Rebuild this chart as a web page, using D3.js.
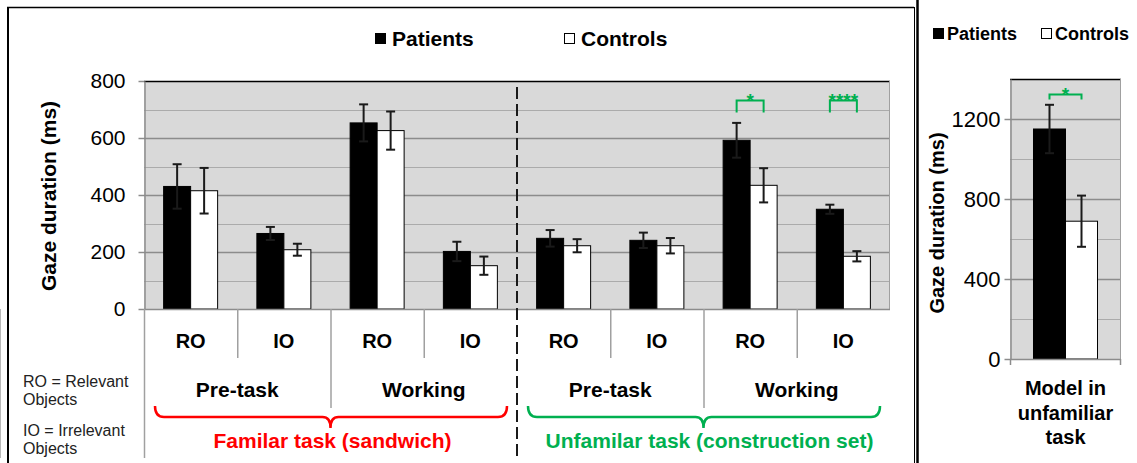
<!DOCTYPE html>
<html>
<head>
<meta charset="utf-8">
<script src="https://cdn.jsdelivr.net/npm/d3@7"></script>
<style>
body { margin: 0; background: #fff; }
text { font-family: "Liberation Sans", Arial, sans-serif; }
</style>
</head>
<body>
<svg id="chart" width="1137" height="463"></svg>
<script>
// main panel data
var categories = ["RO", "IO", "RO", "IO", "RO", "IO", "RO", "IO"];
var phases = ["Pre-task", "Working", "Pre-task", "Working"];
var tasks = ["Familar task (sandwich)", "Unfamilar task (construction set)"];
var taskColors = ["#ff0000", "#00b050"];
var seriesNames = ["Patients", "Controls"];
var patients = [430, 265, 653, 202, 248, 241, 592, 350];
var patientsErr = [78, 23, 65, 34, 29, 27, 61, 16];
var controls = [415, 208, 626, 152, 222, 222, 434, 185];
var controlsErr = [80, 21, 67, 32, 23, 27, 60, 18];
var yTicks = [0, 200, 400, 600, 800];
var yGrid = [100, 200, 300, 400, 500, 600, 700];
var sigIndex = [6, 7];
var sigLabels = ["*", "****"];
var notes = ["RO = Relevant", "Objects", "IO = Irrelevant", "Objects"];

// right panel data
var modelCategory = ["Model in", "unfamiliar", "task"];
var modelPatients = [1150];
var modelPatientsErr = [121];
var modelControls = [689];
var modelControlsErr = [128];
var modelTicks = [0, 400, 800, 1200];
var modelGrid = [200, 400, 600, 800, 1000, 1200];
var modelSig = ["*"];

var svg = d3.select("#chart");
var green = "#00b050";

// frame
svg.append("line").attr("x1", 7).attr("x2", 914).attr("y1", 7.5).attr("y2", 7.5).attr("stroke", "#000").attr("stroke-width", 1.5);
svg.append("line").attr("x1", 8).attr("x2", 8).attr("y1", 7).attr("y2", 463).attr("stroke", "#000").attr("stroke-width", 2);
svg.append("line").attr("x1", 914.5).attr("x2", 914.5).attr("y1", 7).attr("y2", 463).attr("stroke", "#000").attr("stroke-width", 1);
svg.append("line").attr("x1", 917.5).attr("x2", 917.5).attr("y1", 0).attr("y2", 463).attr("stroke", "#000").attr("stroke-width", 2.5);

function drawPanel(opts) {
  var g = svg.append("g");
  var x = d3.scaleBand().domain(d3.range(opts.n)).range([opts.left, opts.right]);
  var x1 = d3.scaleBand().domain(seriesNames).range([0, x.bandwidth()]).paddingOuter(opts.pad);
  var y = d3.scaleLinear().domain([0, opts.max]).range([opts.bottom, opts.top]);

  g.append("rect")
    .attr("x", opts.left).attr("y", opts.top)
    .attr("width", opts.right - opts.left).attr("height", opts.bottom - opts.top)
    .attr("fill", "#d9d9d9");

  g.selectAll("line.grid").data(opts.grid).enter().append("line")
    .attr("x1", opts.left).attr("x2", opts.right)
    .attr("y1", function(d) { return Math.round(y(d)) + 0.5; })
    .attr("y2", function(d) { return Math.round(y(d)) + 0.5; })
    .attr("stroke", function(d) { return opts.ticks.indexOf(d) >= 0 ? "#8c8c8c" : "#ababab"; })
    .attr("stroke-width", function(d) { return opts.ticks.indexOf(d) >= 0 ? 1.5 : 1; });

  var series = [
    { name: "Patients", vals: opts.p, errs: opts.pe, fill: "#000" },
    { name: "Controls", vals: opts.c, errs: opts.ce, fill: "#fff" }
  ];
  series.forEach(function(s) {
    g.selectAll(null).data(s.vals).enter().append("rect")
      .attr("x", function(d, i) { return x(i) + x1(s.name); })
      .attr("y", function(d) { return y(d); })
      .attr("width", x1.bandwidth())
      .attr("height", function(d) { return y(0) - y(d); })
      .attr("fill", s.fill)
      .attr("stroke", "#000").attr("stroke-width", 1);
  });
  series.forEach(function(s) {
    var eb = g.selectAll(null).data(s.vals).enter().append("g")
      .attr("transform", function(d, i) { return "translate(" + (x(i) + x1(s.name) + x1.bandwidth() / 2) + ",0)"; })
      .attr("stroke", "#1a1a1a").attr("stroke-width", 2);
    eb.append("line").attr("y1", function(d, i) { return y(d + s.errs[i]); }).attr("y2", function(d, i) { return y(d - s.errs[i]); });
    eb.append("line").attr("x1", -4.5).attr("x2", 4.5).attr("y1", function(d, i) { return y(d + s.errs[i]); }).attr("y2", function(d, i) { return y(d + s.errs[i]); });
    eb.append("line").attr("x1", -4.5).attr("x2", 4.5).attr("y1", function(d, i) { return y(d - s.errs[i]); }).attr("y2", function(d, i) { return y(d - s.errs[i]); });
  });

  // borders
  g.append("line").attr("x1", opts.left).attr("x2", opts.right).attr("y1", opts.top + 0.5).attr("y2", opts.top + 0.5).attr("stroke", "#000").attr("stroke-width", 1.5);
  g.append("line").attr("x1", opts.right - 0.5).attr("x2", opts.right - 0.5).attr("y1", opts.top).attr("y2", opts.bottom).attr("stroke", "#a0a0a0");
  g.append("line").attr("x1", opts.left).attr("x2", opts.right).attr("y1", opts.bottom + 0.5).attr("y2", opts.bottom + 0.5).attr("stroke", "#8c8c8c").attr("stroke-width", 1.5);

  var axis = g.append("g")
    .attr("transform", "translate(" + (opts.left + 0.5) + ",0)")
    .call(d3.axisLeft(y).tickValues(opts.ticks).tickSize(6).tickSizeOuter(0).tickPadding(opts.tickPad).tickFormat(d3.format("d")));
  axis.select(".domain").attr("stroke", "#8c8c8c").attr("stroke-width", 1.5);
  axis.selectAll(".tick line").attr("stroke", "#8c8c8c").attr("stroke-width", 1.5);
  axis.selectAll(".tick text").attr("font-size", opts.tickFont).attr("fill", "#000")
    .attr("font-family", "Liberation Sans, Arial, sans-serif");

  g.append("text")
    .attr("transform", "translate(" + opts.titleX + "," + opts.titleY + ") rotate(-90)")
    .attr("text-anchor", "middle")
    .attr("font-size", opts.titleFont).attr("font-weight", "bold")
    .text("Gaze duration (ms)");

  // significance brackets
  opts.sig.forEach(function(idx, k) {
    var xa = x(idx) + x1("Patients") + x1.bandwidth() / 2;
    var xb = x(idx) + x1("Controls") + x1.bandwidth() / 2;
    g.append("path")
      .attr("d", "M" + xa + "," + (opts.sigY + opts.sigLeg) + "V" + opts.sigY + "H" + xb + "V" + (opts.sigY + opts.sigLeg))
      .attr("fill", "none").attr("stroke", green).attr("stroke-width", 2);
    g.append("text")
      .attr("x", (xa + xb) / 2).attr("y", opts.sigY + 6)
      .attr("text-anchor", "middle").attr("font-size", 19).attr("font-weight", "bold").attr("fill", green)
      .text(opts.sigText[k]);
  });

  return { x: x, y: y };
}

var main = drawPanel({
  n: categories.length, left: 144, right: 890, top: 81, bottom: 309, max: 800, pad: 0.727,
  p: patients, pe: patientsErr, c: controls, ce: controlsErr,
  grid: yGrid, ticks: yTicks, tickPad: 13, tickFont: 21,
  titleX: 56, titleY: 196, titleFont: 21,
  sig: sigIndex, sigText: sigLabels, sigY: 100.5, sigLeg: 12
});

var model = drawPanel({
  n: 1, left: 1010, right: 1121, top: 79, bottom: 359, max: 1400, pad: 0.734,
  p: modelPatients, pe: modelPatientsErr, c: modelControls, ce: modelControlsErr,
  grid: modelGrid, ticks: modelTicks, tickPad: 4, tickFont: 22,
  titleX: 944, titleY: 223, titleFont: 20,
  sig: [0], sigText: modelSig, sigY: 94.5, sigLeg: 5
});

// main x axis dividers
var x = main.x;
d3.range(categories.length + 1).forEach(function(i) {
  if (i === 4) return;
  var y2 = (i === 0 || i === categories.length) ? 458 : (i % 2 === 0 ? 408 : 358);
  svg.append("line").attr("x1", x(i) + 0.5).attr("x2", x(i) + 0.5).attr("y1", 309).attr("y2", y2)
    .attr("stroke", "#a0a0a0").attr("stroke-width", 1.5);
});
svg.append("line").attr("x1", x(4)).attr("x2", x(4)).attr("y1", 87).attr("y2", 458)
  .attr("stroke", "#1a1a1a").attr("stroke-width", 2).attr("stroke-dasharray", "12,5");

svg.selectAll("text.cat").data(categories).enter().append("text")
  .attr("x", function(d, i) { return x(i) + x.bandwidth() / 2; })
  .attr("y", 348).attr("text-anchor", "middle")
  .attr("font-size", 20).attr("font-weight", "bold").text(function(d) { return d; });

svg.selectAll("text.phase").data(phases).enter().append("text")
  .attr("x", function(d, i) { return x(i * 2) + x.bandwidth(); })
  .attr("y", 397).attr("text-anchor", "middle")
  .attr("font-size", 21).attr("font-weight", "bold").text(function(d) { return d; });

tasks.forEach(function(t, k) {
  var x0 = x(k * 4) + 11, x1 = x(k * 4 + 3) + x.bandwidth() - 10, xm = (x(k * 4) + x(k * 4 + 3) + x.bandwidth()) / 2;
  svg.append("path")
    .attr("d", "M" + x0 + ",406 Q" + x0 + ",417 " + (x0 + 9) + ",417 L" + (xm - 8) + ",417 Q" + xm + ",417 " + xm + ",428 Q" + xm + ",417 " + (xm + 8) + ",417 L" + (x1 - 9) + ",417 Q" + x1 + ",417 " + x1 + ",406")
    .attr("fill", "none").attr("stroke", taskColors[k]).attr("stroke-width", 2.5);
  svg.append("text")
    .attr("x", xm + (k === 0 ? 2 : 6)).attr("y", 448).attr("text-anchor", "middle")
    .attr("font-size", 21).attr("font-weight", "bold").attr("fill", taskColors[k]).text(t);
});

svg.selectAll("text.note").data(notes).enter().append("text")
  .attr("x", 23).attr("y", function(d, i) { return [387, 405, 436, 454][i]; })
  .attr("font-size", 16).attr("fill", "#222").text(function(d) { return d; });

// right panel category
var m = model.x;
m.domain().forEach(function(i) {
  svg.append("line").attr("x1", m(i) + 0.5).attr("x2", m(i) + 0.5).attr("y1", 359).attr("y2", 365).attr("stroke", "#8c8c8c").attr("stroke-width", 1.5);
  svg.append("line").attr("x1", m(i) + m.bandwidth() - 0.5).attr("x2", m(i) + m.bandwidth() - 0.5).attr("y1", 359).attr("y2", 365).attr("stroke", "#8c8c8c").attr("stroke-width", 1.5);
});
svg.selectAll("text.mcat").data(modelCategory).enter().append("text")
  .attr("x", m(0) + m.bandwidth() / 2).attr("y", function(d, i) { return 395 + i * 24.5; })
  .attr("text-anchor", "middle").attr("font-size", 20).attr("font-weight", "bold")
  .text(function(d) { return d; });

// legends
function legend(items) {
  items.forEach(function(it, i) {
    svg.append("rect").attr("x", it.sx).attr("y", it.sy).attr("width", 10).attr("height", 10)
      .attr("fill", i === 0 ? "#000" : "#fff").attr("stroke", "#000").attr("stroke-width", 1);
    svg.append("text").attr("x", it.tx).attr("y", it.ty)
      .attr("font-size", it.fs).attr("font-weight", "bold").text(seriesNames[i]);
  });
}
legend([
  { sx: 375.5, sy: 33.5, tx: 392, ty: 46, fs: 21 },
  { sx: 564.5, sy: 33.5, tx: 581, ty: 46, fs: 21 }
]);
legend([
  { sx: 933.5, sy: 28.5, tx: 947, ty: 40, fs: 18 },
  { sx: 1041.5, sy: 28.5, tx: 1055, ty: 40, fs: 18 }
]);
</script>
</body>
</html>
